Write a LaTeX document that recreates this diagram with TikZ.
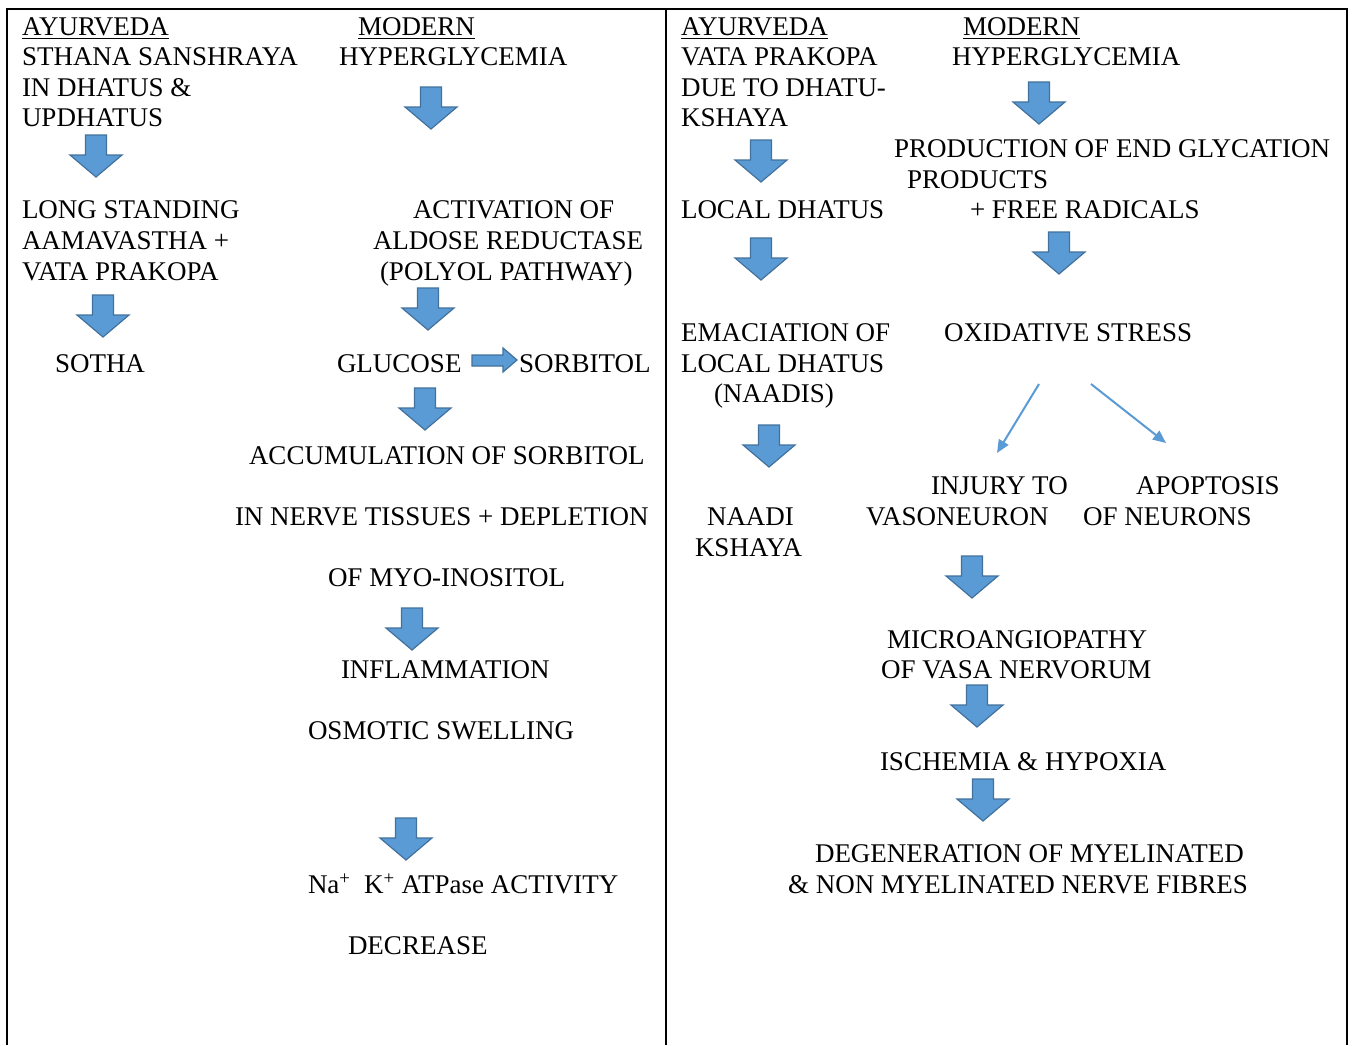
\documentclass[tikz,border=0pt]{standalone}
\usepackage{fontspec}
\setmainfont{Liberation Serif}
\usetikzlibrary{arrows.meta}
\definecolor{afill}{HTML}{5B9BD5}
\definecolor{aline}{HTML}{41719C}
\tikzset{
  txt/.style={anchor=base west, inner sep=0pt, outer sep=0pt, font=\fontsize{27}{30}\selectfont},
  frame/.style={line width=2pt, black},
  uline/.style={line width=1.3pt, black},
  blockarrow/.style={fill=afill, draw=aline, line width=1.2pt, line join=miter},
  thinarrow/.style={draw=afill, line width=2pt, -{Triangle[length=13pt,width=11pt]}},
  pics/downarrow/.style={code={
    \path[blockarrow] (-10.5,0) -- (10.5,0) -- (10.5,20) -- (26,20) -- (0,42) -- (-26,20) -- (-10.5,20) -- cycle;
  }}
}
\begin{document}
\begin{tikzpicture}[x=1pt,y=-1pt]
\useasboundingbox[fill=white] (0,0) rectangle (1353,1045);
% frame
\draw[frame] (7,1045) -- (7,9) -- (1347,9) -- (1347,1045);
\draw[frame] (666,9) -- (666,1045);

% ---------- left half ----------
\node[txt] (ayL) at (22,35) {AYURVEDA};
\node[txt] (moL) at (358,35) {MODERN};
\draw[uline] ([yshift=-3.5pt]ayL.base west) -- ([yshift=-3.5pt]ayL.base east);
\draw[uline] ([yshift=-3.5pt]moL.base west) -- ([yshift=-3.5pt]moL.base east);

\node[txt] (l1a) at (22,65.65) {STHANA SANSHRAYA};
\node[txt] (l1b) at (22,96.3) {IN DHATUS \&};
\node[txt] (l1c) at (22,126.95) {UPDHATUS};
\node[txt] (m1) at (339,65.65) {HYPERGLYCEMIA};

\pic (aL1) at (96,135) {downarrow};
\pic (aM1) at (431,87) {downarrow};

\node[txt] (l2a) at (22,218.9) {LONG STANDING};
\node[txt] (l2b) at (22,249.55) {AAMAVASTHA +};
\node[txt] (l2c) at (22,280.2) {VATA PRAKOPA};
\node[txt] (m2a) at (413,218.9) {ACTIVATION OF};
\node[txt] (m2b) at (373,249.55) {ALDOSE REDUCTASE};
\node[txt] (m2c) at (380,280.2) {(POLYOL PATHWAY)};

\pic (aL2) at (103,295) {downarrow};
\pic (aM2) at (428,288) {downarrow};

\node[txt] (l3) at (55,372.15) {SOTHA};
\node[txt] (m3a) at (337,372.15) {GLUCOSE};
\node[txt] (m3b) at (519,372.15) {SORBITOL};
\path[blockarrow] (472,355) -- (503,355) -- (503,348) -- (517,360) -- (503,372) -- (503,366) -- (472,366) -- cycle;

\pic (aM3) at (425,388) {downarrow};

\node[txt] (m4a) at (249,464.1) {ACCUMULATION OF SORBITOL};
\node[txt] (m4b) at (235,525.4) {IN NERVE TISSUES + DEPLETION};
\node[txt] (m4c) at (328,586.7) {OF MYO-INOSITOL};

\pic (aM4) at (412,608) {downarrow};

\node[txt] (m5a) at (341,678.65) {INFLAMMATION};
\node[txt] (m5b) at (308,739.95) {OSMOTIC SWELLING};

\pic (aM5) at (406,818) {downarrow};

\node[txt] (m6a) at (308,893.2) {Na\textsuperscript{+}\ \ K\textsuperscript{+} ATPase ACTIVITY};
\node[txt] (m6b) at (348,954.5) {DECREASE};

% ---------- right half ----------
\node[txt] (ayR) at (681,35) {AYURVEDA};
\node[txt] (moR) at (963,35) {MODERN};
\draw[uline] ([yshift=-3.5pt]ayR.base west) -- ([yshift=-3.5pt]ayR.base east);
\draw[uline] ([yshift=-3.5pt]moR.base west) -- ([yshift=-3.5pt]moR.base east);

\node[txt] (r1a) at (681,65.65) {VATA PRAKOPA};
\node[txt] (r1b) at (681,96.3) {DUE TO DHATU-};
\node[txt] (r1c) at (681,126.95) {KSHAYA};
\node[txt] (n1) at (952,65.65) {HYPERGLYCEMIA};

\pic (aR4) at (1039,82) {downarrow};
\pic (aR1) at (761,140) {downarrow};

\node[txt] (n2a) at (894,157.6) {PRODUCTION OF END GLYCATION};
\node[txt] (n2b) at (907,188.25) {PRODUCTS};
\node[txt] (n2c) at (970,218.9) {+ FREE RADICALS};
\node[txt] (r2) at (681,218.9) {LOCAL DHATUS};

\pic (aR2) at (761,238) {downarrow};
\pic (aR5) at (1059,232) {downarrow};

\node[txt] (r3a) at (681,341.5) {EMACIATION OF};
\node[txt] (r3b) at (681,372.15) {LOCAL DHATUS};
\node[txt] (r3c) at (714,402.8) {(NAADIS)};
\node[txt] (n3) at (944,341.5) {OXIDATIVE STRESS};

\coordinate (os1) at (1039,384);
\coordinate (os2) at (1091,384);
\coordinate (inj) at (997,453);
\coordinate (apo) at (1166,443);
\draw[thinarrow] (os1) -- (inj);
\draw[thinarrow] (os2) -- (apo);

\pic (aR3) at (769,425) {downarrow};

\node[txt] (n4a) at (931,494.75) {INJURY TO};
\node[txt] (n4b) at (866,525.4) {VASONEURON};
\node[txt] (n4c) at (1136,494.75) {APOPTOSIS};
\node[txt] (n4d) at (1083,525.4) {OF NEURONS};
\node[txt] (r4a) at (707,525.4) {NAADI};
\node[txt] (r4b) at (695,556.05) {KSHAYA};

\pic (aR6) at (972,556) {downarrow};

\node[txt] (n5a) at (887,648) {MICROANGIOPATHY};
\node[txt] (n5b) at (881,678.65) {OF VASA NERVORUM};

\pic (aR7) at (977,685) {downarrow};

\node[txt] (n6) at (880,770.6) {ISCHEMIA \& HYPOXIA};

\pic (aR8) at (983,779) {downarrow};

\node[txt] (n7a) at (815,862.55) {DEGENERATION OF MYELINATED};
\node[txt] (n7b) at (788,893.2) {\& NON MYELINATED NERVE FIBRES};
\end{tikzpicture}
\end{document}
